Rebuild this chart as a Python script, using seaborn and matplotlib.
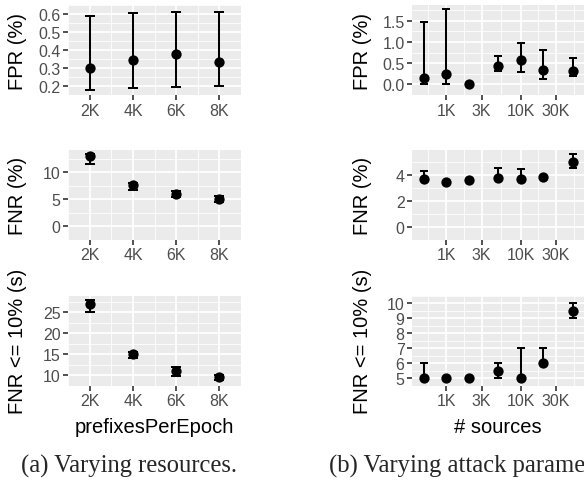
import numpy as np
import pandas as pd
import matplotlib
matplotlib.use("Agg")
import matplotlib.pyplot as plt
import seaborn as sns

# ---------------- data ----------------
prefixes = [2000, 4000, 6000, 8000]
prefix_labels = ["2K", "4K", "6K", "8K"]
fpr_a = [0.300, 0.346, 0.376, 0.331]
fpr_a_lo = [0.180, 0.189, 0.196, 0.198]
fpr_a_hi = [0.591, 0.607, 0.611, 0.612]
fnr_a = [13.05, 7.67, 5.95, 5.00]
fnr_a_lo = [11.56, 6.73, 5.40, 4.45]
fnr_a_hi = [13.50, 8.07, 6.50, 5.56]
time_a = [26.9, 15.0, 11.1, 9.54]
time_a_lo = [25.0, 14.2, 9.93, 8.93]
time_a_hi = [28.0, 15.5, 12.0, 10.16]

sources = [500, 1000, 2000, 5000, 10000, 20000, 50000]
source_ticks = [1000, 3000, 10000, 30000]
source_labels = ["1K", "3K", "10K", "30K"]
fpr_b = [0.147, 0.240, 0.000, 0.440, 0.570, 0.345, 0.320]
fpr_b_lo = [0.000, 0.000, 0.000, 0.310, 0.300, 0.120, 0.190]
fpr_b_hi = [1.466, 1.780, 0.000, 0.680, 0.980, 0.810, 0.615]
fnr_b = [3.69, 3.49, 3.59, 3.80, 3.72, 3.85, 5.05]
fnr_b_lo = [3.55, 3.49, 3.59, 3.70, 3.65, 3.85, 4.56]
fnr_b_hi = [4.32, 3.49, 3.59, 4.58, 4.46, 3.85, 5.67]
time_b = [5.0, 5.0, 5.0, 5.5, 5.0, 6.0, 9.5]
time_b_lo = [5.0, 5.0, 5.0, 5.0, 5.0, 6.0, 9.0]
time_b_hi = [6.0, 5.0, 5.0, 6.0, 7.0, 7.0, 10.0]

ylab_fpr = "FPR (%)"
ylab_fnr = "FNR (%)"
ylab_time = "FNR <= 10% (s)"
xlab_a = "prefixesPerEpoch"
xlab_b = "# sources"
cap_a = "(a) Varying resources."
cap_b = "(b) Varying attack parameters."

yt_a = [[0.2, 0.3, 0.4, 0.5, 0.6], [0, 5, 10], [10, 15, 20, 25]]
ytl_a = [["0.2", "0.3", "0.4", "0.5", "0.6"], ["0", "5", "10"], ["10", "15", "20", "25"]]
yt_b = [[0, 0.5, 1.0, 1.5], [0, 2, 4], [5, 6, 7, 8, 9, 10]]
ytl_b = [["0.0", "0.5", "1.0", "1.5"], ["0", "2", "4"], ["5", "6", "7", "8", "9", "10"]]

# ---------------- style ----------------
sns.set_theme(style="darkgrid")
plt.rcParams["font.family"] = ["Liberation Sans", "DejaVu Sans"]

W, H = 584, 481
fig = plt.figure(figsize=(W / 100, H / 100), dpi=100)

rows_px = [(6, 96), (151, 240.7), (296.8, 386.7)]
col_a = (68.3, 240.7)
col_b = (412.3, 584.1)


def add_ax(col, row):
    x0, x1 = col
    t, b = row
    return fig.add_axes([x0 / W, 1 - b / H, (x1 - x0) / W, (b - t) / H])


def midpoints(v):
    v = np.asarray(v, dtype=float)
    d = v[1] - v[0]
    ext = np.concatenate([[v[0] - d], v, [v[-1] + d]])
    return (ext[:-1] + ext[1:]) / 2


def style(ax, yticks, ylabels):
    ax.set_facecolor("#EBEBEB")
    for s in ax.spines.values():
        s.set_visible(False)
    ax.set_axisbelow(True)
    ax.grid(which="major", color="white", linewidth=1.25)
    ax.grid(which="minor", color="white", linewidth=0.6)
    ax.set_yticks(yticks)
    ax.set_yticklabels(ylabels)
    ax.set_yticks(midpoints(yticks), minor=True)
    ax.tick_params(which="major", length=3.6, width=1.2, color="#333333",
                   labelcolor="#4D4D4D", labelsize=11.5, pad=2.0,
                   bottom=True, left=True)
    ax.tick_params(which="minor", length=0)


def panel(ax, x, y, lo, hi, capsize, include_zero):
    df = pd.DataFrame({"x": x, "y": y, "lo": lo, "hi": hi})
    ax.errorbar(df["x"], df["y"], yerr=[df["y"] - df["lo"], df["hi"] - df["y"]],
                fmt="none", ecolor="black", elinewidth=1.45, capsize=capsize,
                capthick=1.45, zorder=2)
    sns.scatterplot(data=df, x="x", y="y", ax=ax, color="black", s=55,
                    linewidth=0, zorder=3, legend=False)
    lo_v = min(df["lo"].min(), 0) if include_zero else df["lo"].min()
    hi_v = df["hi"].max()
    pad = (hi_v - lo_v) * 0.05
    ax.set_ylim(lo_v - pad, hi_v + pad)
    ax.set_xlabel("")
    ax.set_ylabel("")


data_a = [(fpr_a, fpr_a_lo, fpr_a_hi, False), (fnr_a, fnr_a_lo, fnr_a_hi, True),
          (time_a, time_a_lo, time_a_hi, False)]
data_b = [(fpr_b, fpr_b_lo, fpr_b_hi, False), (fnr_b, fnr_b_lo, fnr_b_hi, True),
          (time_b, time_b_lo, time_b_hi, False)]
ylabs = [ylab_fpr, ylab_fnr, ylab_time]

for i in range(3):
    # left column
    ax = add_ax(col_a, rows_px[i])
    y, lo, hi, z = data_a[i]
    panel(ax, prefixes, y, lo, hi, 3.95, z)
    style(ax, yt_a[i], ytl_a[i])
    ax.set_xlim(1420, 8570)
    ax.set_xticks(prefixes)
    ax.set_xticklabels(prefix_labels)
    ax.set_xticks(midpoints(prefixes), minor=True)
    ax.set_ylabel(ylabs[i], fontsize=14.5, color="black", va="center")
    ax.yaxis.set_label_coords((17.7 - col_a[0]) / (col_a[1] - col_a[0]), 0.5)
    if i == 2:
        ax.set_xlabel(xlab_a, fontsize=14.5, color="black", va="center")
        ax.xaxis.set_label_coords(0.5, (rows_px[i][1] - 428) / (rows_px[i][1] - rows_px[i][0]))

    # right column
    ax = add_ax(col_b, rows_px[i])
    y, lo, hi, z = data_b[i]
    ax.set_xscale("log")
    panel(ax, sources, y, lo, hi, 2.7, z)
    style(ax, yt_b[i], ytl_b[i])
    ax.set_xlim(10 ** 2.544, 10 ** 4.854)
    ax.set_xticks(source_ticks)
    ax.set_xticklabels(source_labels)
    ax.set_xticks(10 ** midpoints(np.log10(source_ticks)), minor=True)
    ax.tick_params(which="minor", length=0)
    ax.set_ylabel(ylabs[i], fontsize=14.5, color="black", va="center")
    ax.yaxis.set_label_coords((363 - col_b[0]) / (col_b[1] - col_b[0]), 0.5)
    if i == 2:
        ax.set_xlabel(xlab_b, fontsize=14.5, color="black", va="center")
        ax.xaxis.set_label_coords(0.5, (rows_px[i][1] - 428) / (rows_px[i][1] - rows_px[i][0]))

fig.text(129 / W, 1 - 466.7 / H, cap_a, family=["Liberation Serif", "DejaVu Serif"],
         fontsize=17.7, ha="center", va="center")
fig.text(328.7 / W, 1 - 466.7 / H, cap_b, family=["Liberation Serif", "DejaVu Serif"],
         fontsize=17.7, ha="left", va="center")

fig.savefig("out.png", dpi=100)
